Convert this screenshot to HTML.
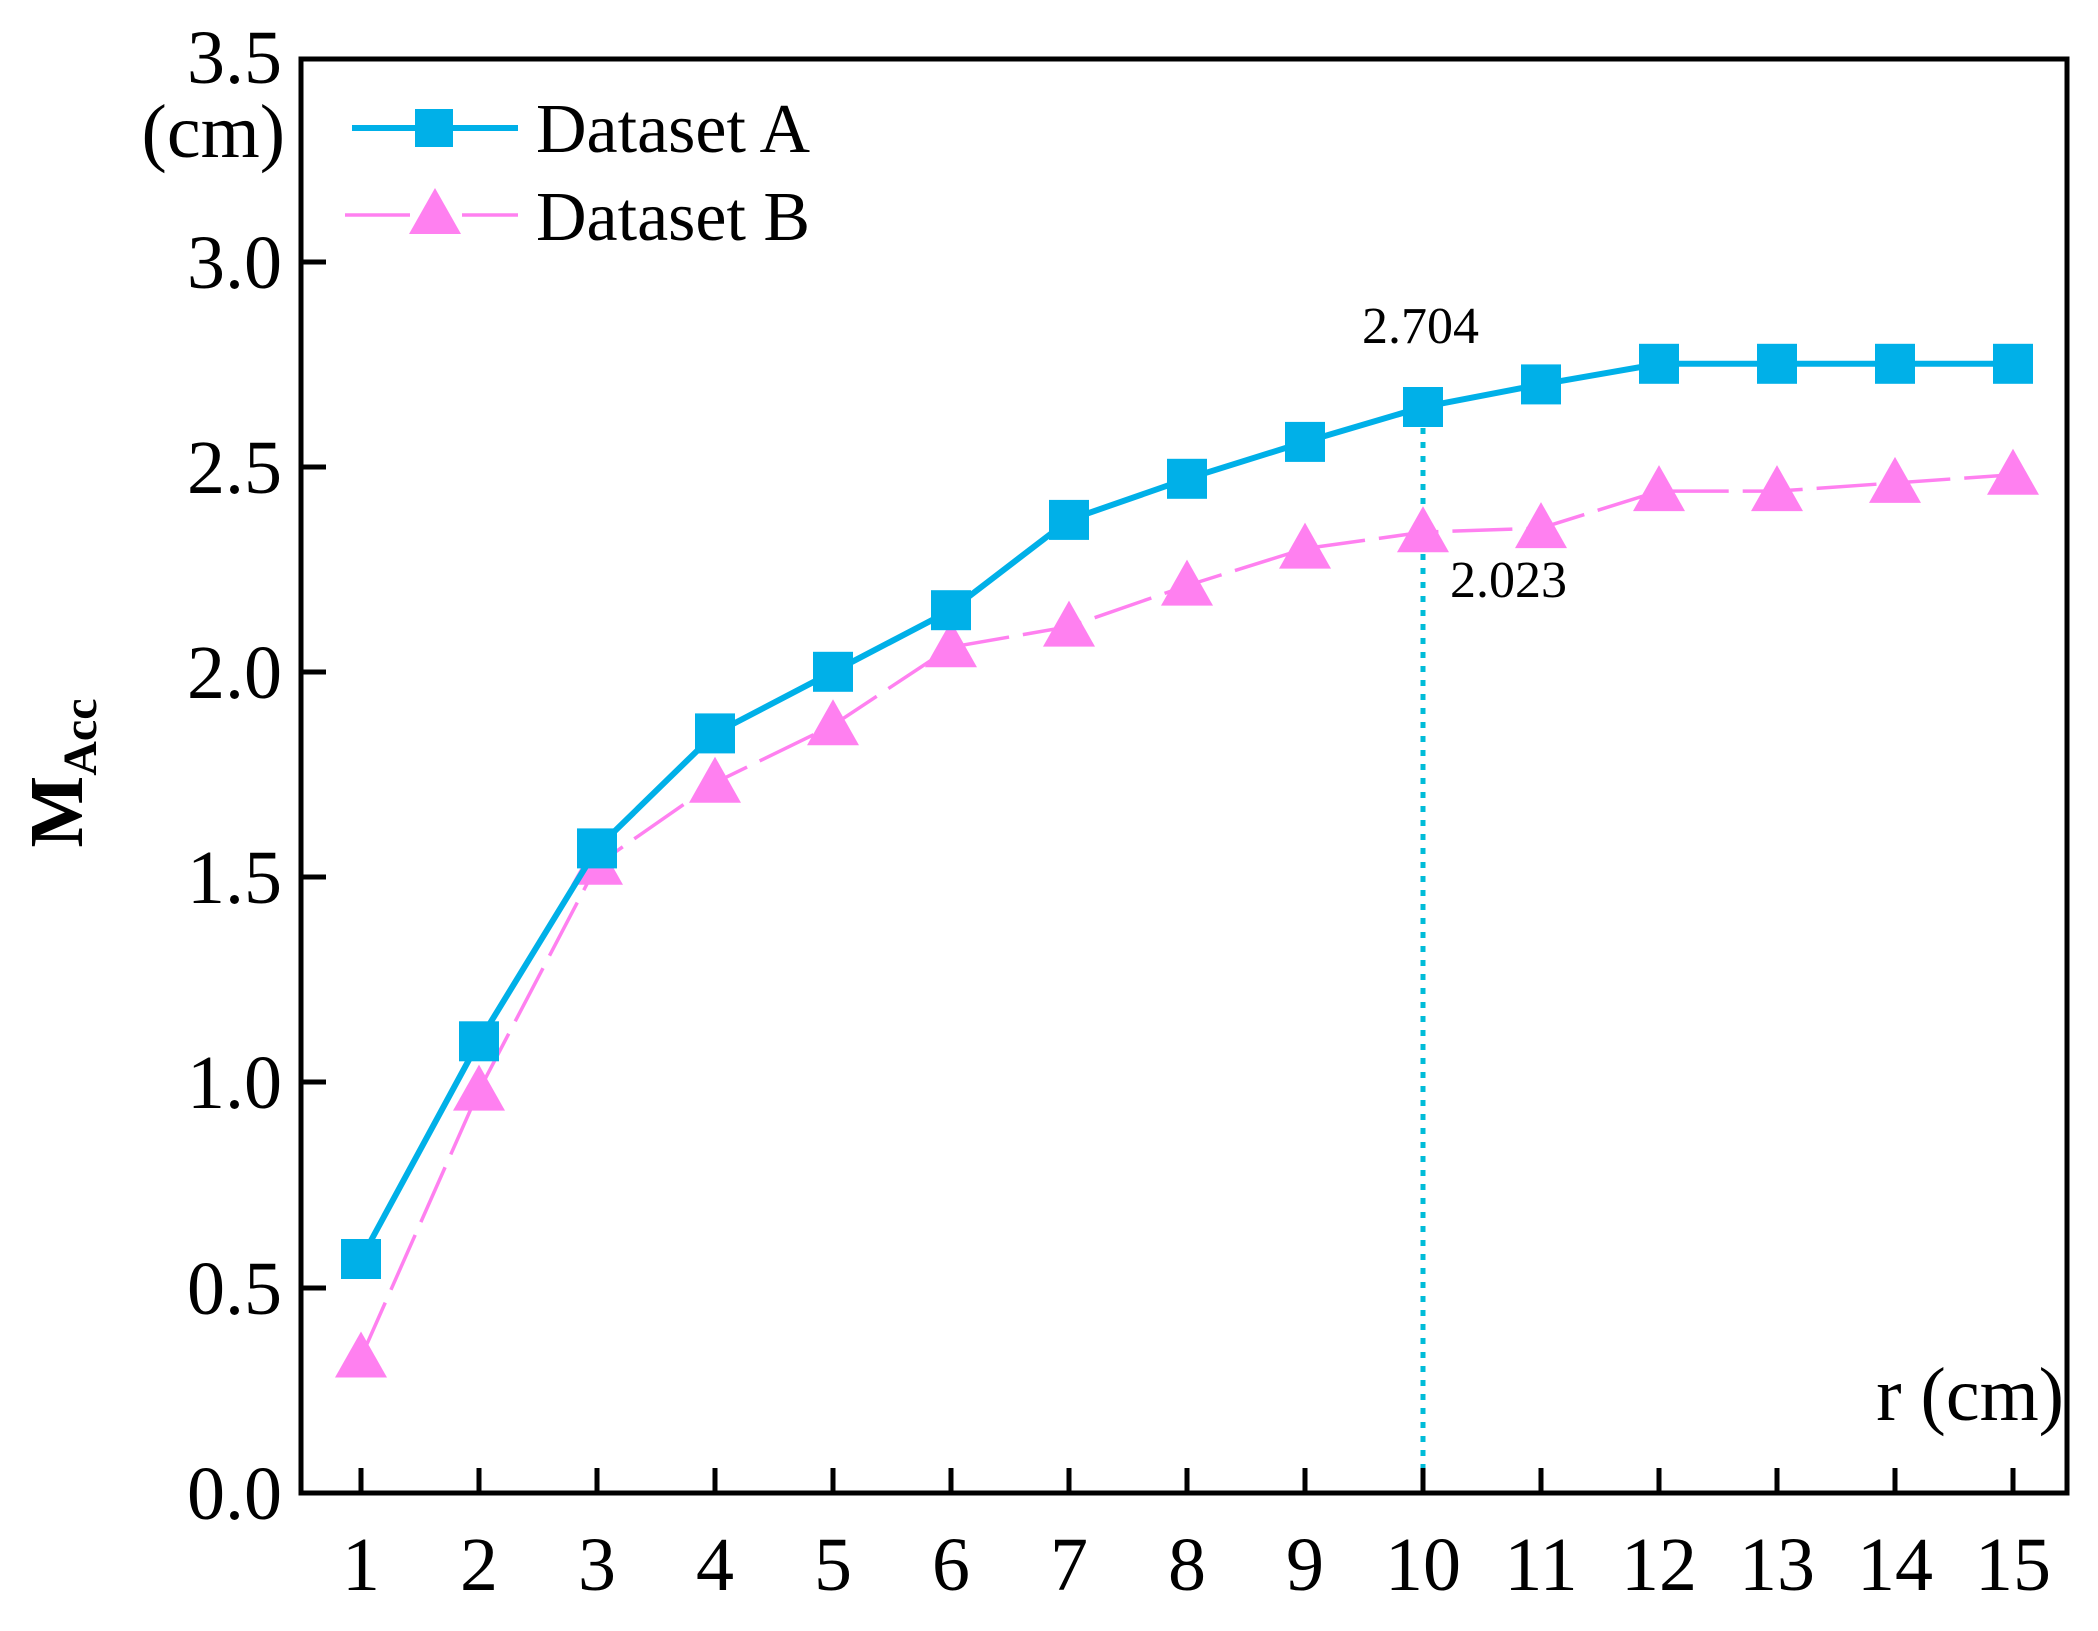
<!DOCTYPE html>
<html><head><meta charset="utf-8"><style>html,body{margin:0;padding:0;background:#fff}</style></head>
<body>
<svg width="2098" height="1626" viewBox="0 0 2098 1626" xmlns="http://www.w3.org/2000/svg" font-family="Liberation Serif, serif">
<rect width="2098" height="1626" fill="#fff"/>
<line x1="1423" y1="428" x2="1423" y2="1493" stroke="#00bcd8" stroke-width="5" stroke-dasharray="6,8"/>
<polyline points="361,1357.5 479,1090.6 597,864.8 715,782.7 833,725.2 951,647.2 1069,626.6 1187,585.6 1305,548.6 1423,532.2 1541,528.1 1659,491.1 1777,491.1 1895,482.9 2013,474.7" fill="none" stroke="#ff80f0" stroke-width="3.5" stroke-dasharray="60,14"/>
<g fill="#ff80f0">
<polygon points="361,1331.5 387,1377.5 335,1377.5"/>
<polygon points="479,1064.6 505,1110.6 453,1110.6"/>
<polygon points="597,838.8 623,884.8 571,884.8"/>
<polygon points="715,756.7 741,802.7 689,802.7"/>
<polygon points="833,699.2 859,745.2 807,745.2"/>
<polygon points="951,621.2 977,667.2 925,667.2"/>
<polygon points="1069,600.6 1095,646.6 1043,646.6"/>
<polygon points="1187,559.6 1213,605.6 1161,605.6"/>
<polygon points="1305,522.6 1331,568.6 1279,568.6"/>
<polygon points="1423,506.2 1449,552.2 1397,552.2"/>
<polygon points="1541,502.1 1567,548.1 1515,548.1"/>
<polygon points="1659,465.1 1685,511.1 1633,511.1"/>
<polygon points="1777,465.1 1803,511.1 1751,511.1"/>
<polygon points="1895,456.9 1921,502.9 1869,502.9"/>
<polygon points="2013,448.7 2039,494.7 1987,494.7"/>
</g>
<polyline points="361,1259 479,1041.3 597,848.4 715,733.4 833,671.8 951,610.2 1069,519.9 1187,478.8 1305,441.9 1423,407 1541,384.4 1659,363.8 1777,363.8 1895,363.8 2013,363.8" fill="none" stroke="#00b0e8" stroke-width="6"/>
<g fill="#00b0e8">
<rect x="341" y="1239" width="40" height="40"/>
<rect x="459" y="1021.3" width="40" height="40"/>
<rect x="577" y="828.4" width="40" height="40"/>
<rect x="695" y="713.4" width="40" height="40"/>
<rect x="813" y="651.8" width="40" height="40"/>
<rect x="931" y="590.2" width="40" height="40"/>
<rect x="1049" y="499.9" width="40" height="40"/>
<rect x="1167" y="458.8" width="40" height="40"/>
<rect x="1285" y="421.9" width="40" height="40"/>
<rect x="1403" y="387" width="40" height="40"/>
<rect x="1521" y="364.4" width="40" height="40"/>
<rect x="1639" y="343.8" width="40" height="40"/>
<rect x="1757" y="343.8" width="40" height="40"/>
<rect x="1875" y="343.8" width="40" height="40"/>
<rect x="1993" y="343.8" width="40" height="40"/>
</g>
<rect x="301" y="59" width="1766" height="1434" fill="none" stroke="#000" stroke-width="5"/>
<g stroke="#000" stroke-width="5">
<line x1="301" y1="1288" x2="326" y2="1288"/><line x1="301" y1="1082" x2="326" y2="1082"/>
<line x1="301" y1="877" x2="326" y2="877"/><line x1="301" y1="672" x2="326" y2="672"/>
<line x1="301" y1="467" x2="326" y2="467"/><line x1="301" y1="262" x2="326" y2="262"/>
<line x1="361" y1="1493" x2="361" y2="1468"/><line x1="479" y1="1493" x2="479" y2="1468"/>
<line x1="597" y1="1493" x2="597" y2="1468"/><line x1="715" y1="1493" x2="715" y2="1468"/>
<line x1="833" y1="1493" x2="833" y2="1468"/><line x1="951" y1="1493" x2="951" y2="1468"/>
<line x1="1069" y1="1493" x2="1069" y2="1468"/><line x1="1187" y1="1493" x2="1187" y2="1468"/>
<line x1="1305" y1="1493" x2="1305" y2="1468"/><line x1="1423" y1="1493" x2="1423" y2="1468"/>
<line x1="1541" y1="1493" x2="1541" y2="1468"/><line x1="1659" y1="1493" x2="1659" y2="1468"/>
<line x1="1777" y1="1493" x2="1777" y2="1468"/><line x1="1895" y1="1493" x2="1895" y2="1468"/>
<line x1="2013" y1="1493" x2="2013" y2="1468"/>
</g>
<g font-size="76" text-anchor="end" fill="#000">
<text x="282" y="1519">0.0</text><text x="282" y="1314">0.5</text><text x="282" y="1108">1.0</text>
<text x="282" y="903">1.5</text><text x="282" y="698">2.0</text><text x="282" y="493">2.5</text>
<text x="282" y="288">3.0</text><text x="282" y="83">3.5</text>
<text x="285" y="157">(cm)</text>
</g>
<g font-size="76" text-anchor="middle" fill="#000">
<text x="361" y="1590">1</text><text x="479" y="1590">2</text><text x="597" y="1590">3</text>
<text x="715" y="1590">4</text><text x="833" y="1590">5</text><text x="951" y="1590">6</text>
<text x="1069" y="1590">7</text><text x="1187" y="1590">8</text><text x="1305" y="1590">9</text>
<text x="1423" y="1590">10</text><text x="1541" y="1590">11</text><text x="1659" y="1590">12</text>
<text x="1777" y="1590">13</text><text x="1895" y="1590">14</text><text x="2013" y="1590">15</text>
</g>
<text transform="translate(82,773) rotate(-90)" font-size="76" font-weight="bold" text-anchor="middle">M<tspan font-size="48" dy="14">Acc</tspan></text>
<text x="2064" y="1420" font-size="76" text-anchor="end">r (cm)</text>
<text x="1362" y="343" font-size="52">2.704</text>
<text x="1450" y="597" font-size="52">2.023</text>
<line x1="352" y1="128" x2="518" y2="128" stroke="#00b0e8" stroke-width="6"/>
<rect x="415" y="109" width="38" height="38" fill="#00b0e8"/>
<line x1="345" y1="215" x2="410" y2="215" stroke="#ff80f0" stroke-width="3.5"/>
<line x1="462" y1="215" x2="518" y2="215" stroke="#ff80f0" stroke-width="3.5"/>
<polygon points="435,188 461,234 409,234" fill="#ff80f0"/>
<text x="536" y="152" font-size="70">Dataset A</text>
<text x="536" y="240" font-size="70">Dataset B</text>
</svg>
</body></html>
